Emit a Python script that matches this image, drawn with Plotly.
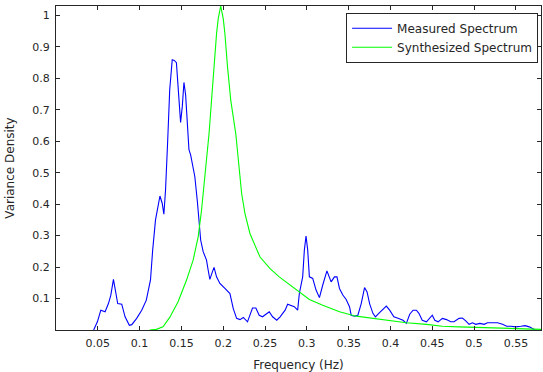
import plotly.graph_objects as go

# Measured spectrum (blue)
meas_f = [0.045, 0.0495, 0.0536, 0.0587, 0.0627, 0.0655, 0.0687, 0.0715, 0.0738, 0.0786,
          0.0826, 0.0877, 0.0906, 0.0965, 0.1025, 0.108, 0.113, 0.1156, 0.119, 0.1243,
          0.127, 0.129, 0.131, 0.1336, 0.136, 0.139, 0.1414, 0.144, 0.146, 0.148,
          0.149, 0.151, 0.153, 0.155, 0.157, 0.159, 0.161, 0.163, 0.166, 0.169,
          0.171, 0.173, 0.176, 0.180, 0.182, 0.184, 0.187, 0.189, 0.192, 0.196,
          0.202, 0.208, 0.212, 0.216, 0.220, 0.224, 0.229, 0.232, 0.235, 0.239,
          0.243, 0.247, 0.252, 0.255, 0.259, 0.264, 0.268, 0.274, 0.277, 0.281,
          0.285, 0.289, 0.291, 0.295, 0.297, 0.299, 0.301, 0.303, 0.307, 0.311,
          0.315, 0.319, 0.324, 0.329, 0.333, 0.336, 0.339, 0.343, 0.347, 0.351,
          0.353, 0.357, 0.361, 0.365, 0.369, 0.372, 0.375, 0.379, 0.382, 0.386,
          0.391, 0.395, 0.399, 0.404, 0.409, 0.415, 0.419, 0.423, 0.427, 0.431,
          0.434, 0.438, 0.443, 0.447, 0.450, 0.453, 0.457, 0.462, 0.467, 0.472,
          0.476, 0.482, 0.486, 0.490, 0.494, 0.498, 0.502, 0.507, 0.512, 0.516,
          0.522, 0.528, 0.534, 0.539, 0.544, 0.550, 0.556, 0.561, 0.566, 0.570,
          0.573]
meas_v = [0.0, 0.026, 0.063, 0.058, 0.084, 0.11, 0.161, 0.121, 0.084, 0.082,
          0.042, 0.015, 0.017, 0.037, 0.063, 0.095, 0.159, 0.254, 0.35, 0.426,
          0.403, 0.368, 0.445, 0.604, 0.764, 0.859, 0.857, 0.85, 0.785, 0.71,
          0.66, 0.71, 0.787, 0.748, 0.658, 0.573, 0.557, 0.525, 0.488, 0.41,
          0.339, 0.286, 0.249, 0.222, 0.19, 0.161, 0.185, 0.199, 0.169, 0.148,
          0.132, 0.116, 0.068, 0.037, 0.033, 0.04, 0.026, 0.047, 0.07, 0.07,
          0.047, 0.042, 0.053, 0.058, 0.042, 0.031, 0.042, 0.063, 0.082, 0.079,
          0.074, 0.063, 0.116, 0.169, 0.254, 0.299, 0.254, 0.169, 0.164, 0.127,
          0.103, 0.143, 0.188, 0.153, 0.169, 0.169, 0.132, 0.111, 0.097, 0.074,
          0.047, 0.044, 0.047, 0.084, 0.135, 0.121, 0.084, 0.053, 0.042, 0.053,
          0.065, 0.076, 0.063, 0.042, 0.037, 0.031, 0.021, 0.05, 0.063, 0.063,
          0.053, 0.031, 0.026, 0.037, 0.047, 0.031, 0.026, 0.037, 0.033, 0.026,
          0.026, 0.037, 0.038, 0.029, 0.018, 0.023, 0.018, 0.021, 0.018, 0.023,
          0.023, 0.023, 0.018, 0.012, 0.012, 0.01, 0.012, 0.014, 0.01, 0.005,
          0.0]

# Synthesized spectrum (green)
syn_f = [0.112, 0.12, 0.128, 0.136, 0.146, 0.156, 0.164, 0.17, 0.174, 0.177,
         0.18, 0.183, 0.186, 0.189, 0.192, 0.194, 0.197, 0.2, 0.202, 0.205,
         0.209, 0.215, 0.218, 0.222, 0.226, 0.232, 0.244, 0.256, 0.267, 0.279,
         0.291, 0.303, 0.319, 0.339, 0.359, 0.379, 0.399, 0.419, 0.443, 0.462,
         0.482, 0.502, 0.542, 0.58]
syn_v = [0.0, 0.002, 0.01, 0.04, 0.09, 0.158, 0.222, 0.296, 0.38, 0.455,
         0.54, 0.624, 0.73, 0.85, 0.942, 0.99, 1.03, 0.99, 0.942, 0.84,
         0.73, 0.624, 0.54, 0.434, 0.37, 0.306, 0.232, 0.195, 0.169, 0.145,
         0.122, 0.097, 0.079, 0.058, 0.044, 0.037, 0.029, 0.023, 0.018, 0.012,
         0.01, 0.008, 0.004, 0.002]

x_ticks = [0.05, 0.1, 0.15, 0.2, 0.25, 0.3, 0.35, 0.4, 0.45, 0.5, 0.55]
x_tick_labels = ["0.05", "0.1", "0.15", "0.2", "0.25", "0.3", "0.35", "0.4", "0.45", "0.5", "0.55"]
y_ticks = [0.1, 0.2, 0.3, 0.4, 0.5, 0.6, 0.7, 0.8, 0.9, 1.0]
y_tick_labels = ["0.1", "0.2", "0.3", "0.4", "0.5", "0.6", "0.7", "0.8", "0.9", "1"]

fig = go.Figure()
fig.add_trace(go.Scatter(x=meas_f, y=meas_v, mode="lines", name="Measured Spectrum",
                         line=dict(color="#0000ff", width=1.1)))
fig.add_trace(go.Scatter(x=syn_f, y=syn_v, mode="lines", name="Synthesized Spectrum",
                         line=dict(color="#00ff00", width=1.1)))

axis_common = dict(showgrid=False, zeroline=False, showline=True, linecolor="#262626",
                   linewidth=1, mirror="ticks", ticks="inside", ticklen=4,
                   tickcolor="#262626", tickfont=dict(size=11, color="#262626"),
                   automargin=False, ticklabelstandoff=3)

fig.update_layout(
    width=543, height=372,
    margin=dict(l=56, r=2, t=6, b=42),
    paper_bgcolor="white", plot_bgcolor="white",
    font=dict(family="DejaVu Sans, Liberation Sans, sans-serif", size=11, color="#262626"),
    showlegend=True,
    legend=dict(x=0.994, y=0.979, xanchor="right", yanchor="top",
                bordercolor="#262626", borderwidth=1, bgcolor="white",
                font=dict(size=12, color="#262626"), tracegroupgap=0,
                itemwidth=40),
    xaxis=dict(range=[0, 0.58], tickvals=x_ticks, ticktext=x_tick_labels,
               title=dict(text="Frequency (Hz)", font=dict(size=12)),
               **axis_common),
    yaxis=dict(range=[0, 1.03], tickvals=y_ticks, ticktext=y_tick_labels,
               title=dict(text="Variance Density", font=dict(size=12)),
               **axis_common),
)

fig.write_html("out.html", config={"displayModeBar": False},
               post_script="document.body.style.margin='0';document.body.style.overflow='hidden';")
